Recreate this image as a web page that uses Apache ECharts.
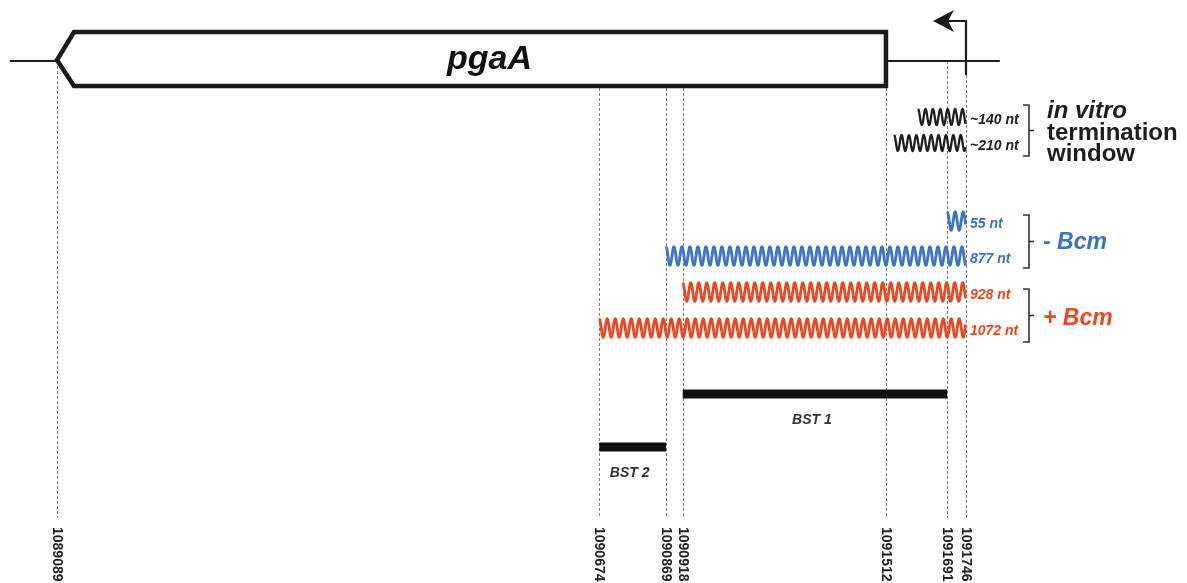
<!DOCTYPE html>
<html><head><meta charset="utf-8">
<script src="https://cdn.jsdelivr.net/npm/echarts@6/dist/echarts.min.js"></script>
<style>html,body{margin:0;padding:0;background:#fff}#c{width:1187px;height:583px}</style>
</head><body><div id="c"></div>
<script>
// ---------------- DATA ----------------
const tickPositions = [1089089, 1090674, 1090869, 1090918, 1091512, 1091691, 1091746];
const geneName = 'pgaA';
const geneStart = 1089089;      // arrow tip (minus strand)
const geneEnd = 1091512;
const tssPosition = 1091746;
const backboneStart = 1088951;
const backboneEnd = 1091845;

const transcriptLabels = ['~140 nt', '~210 nt', '55 nt', '877 nt', '928 nt', '1072 nt'];
const transcriptStarts = [1091606, 1091536, 1091691, 1090869, 1090918, 1090674];
const transcriptEnds   = [1091746, 1091746, 1091746, 1091746, 1091746, 1091746];
const transcriptGroups = ['vitro', 'vitro', 'minus', 'minus', 'plus', 'plus'];

const groupKeys = ['vitro', 'minus', 'plus'];
const groupLabels = [['in vitro', 'termination', 'window'], ['- Bcm'], ['+ Bcm']];

const bstNames  = ['BST 1', 'BST 2'];
const bstStarts = [1090918, 1090674];
const bstEnds   = [1091691, 1090869];

// ---------------- LAYOUT / STYLE ----------------
const L = {
  backboneY: 61, boxTop: 32, boxBottom: 86, tipY: 60, headPx: 17,
  promoterTop: 21, promoterBottom: 75, guideBottom: 518,
  transcriptRowY: [117, 143, 221, 256, 292, 328],
  bracketX: 1029, bracketSpan: [[105, 156], [215, 268], [289, 342]],
  groupLabelX: 1045,
  bstRowY: [394, 447], bstThick: 9, bstLabelDy: 26
};
const GROUP_STYLE = {
  vitro: {color: '#1e1e1e', amp: 8, wl: 7.4, lw: 2.3, labelColor: '#222'},
  minus: {color: '#3b73c6', amp: 9.3, wl: 8, lw: 2.8, labelColor: '#3b73c6'},
  plus:  {color: '#f0461f', amp: 9.3, wl: 8, lw: 2.8, labelColor: '#f0461f'}
};
const FONT = 'Liberation Sans';

const chart = echarts.init(document.getElementById('c'), null, {renderer: 'canvas'});

function guideItem(params, api) {
  const p = api.value(0);
  let y0;
  if (p === tssPosition) y0 = L.promoterBottom;
  else if (p > geneStart && p <= geneEnd) y0 = L.boxBottom + 2;
  else y0 = L.backboneY;
  const a = api.coord([p, y0]), b = api.coord([p, L.guideBottom]);
  const x = Math.round(a[0]) + 0.5;
  return {type: 'line', shape: {x1: x, y1: a[1], x2: x, y2: b[1]},
    style: {stroke: '#808080', lineWidth: 1, lineDash: [3, 2]}};
}

function backboneItem(params, api) {
  const a = api.coord([api.value(0), L.backboneY]), b = api.coord([api.value(1), L.backboneY]);
  return {type: 'line', shape: {x1: a[0], y1: a[1], x2: b[0], y2: b[1]},
    style: {stroke: '#1e1e1e', lineWidth: 2}};
}

function geneItem(params, api) {
  const tip = api.coord([api.value(0), L.tipY]);
  const endTop = api.coord([api.value(1), L.boxTop]);
  const endBot = api.coord([api.value(1), L.boxBottom]);
  const sx = tip[0] + L.headPx;
  const pts = [[tip[0], tip[1]], [sx, endTop[1]], [endTop[0], endTop[1]], [endBot[0], endBot[1]], [sx, endBot[1]]];
  const cx = (tip[0] + endTop[0]) / 2 + 18;
  return {type: 'group', children: [
    {type: 'polygon', shape: {points: pts}, style: {fill: '#fff', stroke: '#1a1a1a', lineWidth: 4.5, lineJoin: 'miter'}},
    {type: 'text', style: {text: geneName, x: cx, y: (endTop[1] + endBot[1]) / 2 + 1, align: 'center', verticalAlign: 'middle',
      fontFamily: FONT, fontSize: 34, fontWeight: 'bold', fontStyle: 'italic', fill: '#111'}}
  ]};
}

function promoterItem(params, api) {
  const bot = api.coord([api.value(0), L.promoterBottom]);
  const top = api.coord([api.value(0), L.promoterTop]);
  const x = bot[0], yT = top[1];
  const tipX = x - 33;
  return {type: 'group', children: [
    {type: 'polyline', shape: {points: [[x, bot[1]], [x, yT], [tipX + 14, yT]]}, style: {stroke: '#1a1a1a', lineWidth: 2.2, fill: null}},
    {type: 'polygon', shape: {points: [[tipX, yT], [tipX + 21, yT - 11], [tipX + 15, yT], [tipX + 21, yT + 11]]}, style: {fill: '#1a1a1a'}}
  ]};
}

function transcriptItem(params, api) {
  const i = api.value(2);
  const st = GROUP_STYLE[transcriptGroups[i]];
  const y = L.transcriptRowY[i];
  const a = api.coord([api.value(0), y]), b = api.coord([api.value(1), y]);
  const pts = [];
  for (let x = a[0]; x <= b[0] + 0.01; x += 0.5) {
    pts.push([x, a[1] - st.amp * Math.cos(2 * Math.PI * (x - a[0]) / st.wl)]);
  }
  return {type: 'group', children: [
    {type: 'polyline', shape: {points: pts}, style: {stroke: st.color, lineWidth: st.lw, fill: null, lineJoin: 'round'}},
    {type: 'text', style: {text: transcriptLabels[i], x: b[0] + 4, y: a[1] + 3, align: 'left', verticalAlign: 'middle',
      fontFamily: FONT, fontSize: 14, fontWeight: 'bold', fontStyle: 'italic', fill: st.labelColor}}
  ]};
}

function bracketItem(params, api) {
  const g = api.value(1);
  const span = L.bracketSpan[g];
  const key = groupKeys[g];
  const st = GROUP_STYLE[key];
  const x = L.bracketX;
  const mid = (span[0] + span[1]) / 2;
  const children = [
    {type: 'polyline', shape: {points: [[x - 6, span[0]], [x, span[0]], [x, span[1]], [x - 6, span[1]]]}, style: {stroke: '#333', lineWidth: 1.6, fill: null}},
    {type: 'line', shape: {x1: x, y1: mid, x2: x + 5, y2: mid}, style: {stroke: '#333', lineWidth: 1.6}}
  ];
  const labels = groupLabels[g];
  if (key === 'vitro') {
    labels.forEach((t, k) => {
      children.push({type: 'text', style: {text: t, x: L.groupLabelX + 2, y: mid - 19 + k * 21.5, align: 'left', verticalAlign: 'middle',
        fontFamily: FONT, fontSize: 24, fontWeight: 'bold', fontStyle: k === 0 ? 'italic' : 'normal', fill: '#1e1e1e'}});
    });
  } else {
    children.push({type: 'text', style: {text: labels[0], x: L.groupLabelX - 2, y: mid + 1 + (key === 'plus' ? 2 : 0), align: 'left', verticalAlign: 'middle',
      fontFamily: FONT, fontSize: 23, fontWeight: 'bold', fontStyle: 'italic', fill: st.labelColor}});
  }
  return {type: 'group', children};
}

function bstItem(params, api) {
  const i = api.value(2);
  const y = L.bstRowY[i];
  const a = api.coord([api.value(0), y]), b = api.coord([api.value(1), y]);
  return {type: 'group', children: [
    {type: 'rect', shape: {x: a[0], y: a[1] - L.bstThick / 2, width: b[0] - a[0], height: L.bstThick}, style: {fill: '#111'}},
    {type: 'text', style: {text: bstNames[i], x: (a[0] + b[0]) / 2 - 3, y: a[1] + L.bstLabelDy, align: 'center', verticalAlign: 'middle',
      fontFamily: FONT, fontSize: 14, fontWeight: 'bold', fontStyle: 'italic', fill: '#333'}}
  ]};
}

const option = {
  animation: false,
  backgroundColor: '#fff',
  grid: {left: 0, right: 0, top: 0, height: 522, containLabel: false, outerBoundsMode: 'none'},
  xAxis: {
    type: 'value', min: 1088922.4, max: 1092392,
    axisLine: {show: false}, axisTick: {show: false}, splitLine: {show: false},
    axisLabel: {customValues: tickPositions, rotate: -90, margin: 5, fontSize: 14, fontWeight: 'bold',
      fontFamily: FONT, color: '#222', formatter: v => String(v)}
  },
  yAxis: {type: 'value', min: 0, max: 522, inverse: true, show: false},
  series: [
    {type: 'custom', name: 'guides', silent: true, z: 1, data: tickPositions.map(p => [p, 0]), encode: {x: 0, y: 1}, renderItem: guideItem},
    {type: 'custom', name: 'backbone', silent: true, z: 2, data: [[backboneStart, backboneEnd]], encode: {x: [0, 1]}, renderItem: backboneItem},
    {type: 'custom', name: 'gene', silent: true, z: 3, data: [[geneStart, geneEnd]], encode: {x: [0, 1]}, renderItem: geneItem},
    {type: 'custom', name: 'promoter', silent: true, z: 3, data: [[tssPosition, 0]], encode: {x: 0, y: 1}, renderItem: promoterItem},
    {type: 'custom', name: 'transcripts', silent: true, z: 4, data: transcriptStarts.map((s, i) => [s, transcriptEnds[i], i]), encode: {x: [0, 1]}, renderItem: transcriptItem},
    {type: 'custom', name: 'brackets', silent: true, z: 4, data: groupKeys.map((k, g) => [tssPosition, g]), encode: {x: 0}, renderItem: bracketItem},
    {type: 'custom', name: 'bst', silent: true, z: 4, data: bstStarts.map((s, i) => [s, bstEnds[i], i]), encode: {x: [0, 1]}, renderItem: bstItem}
  ]
};
chart.setOption(option);
</script></body></html>
